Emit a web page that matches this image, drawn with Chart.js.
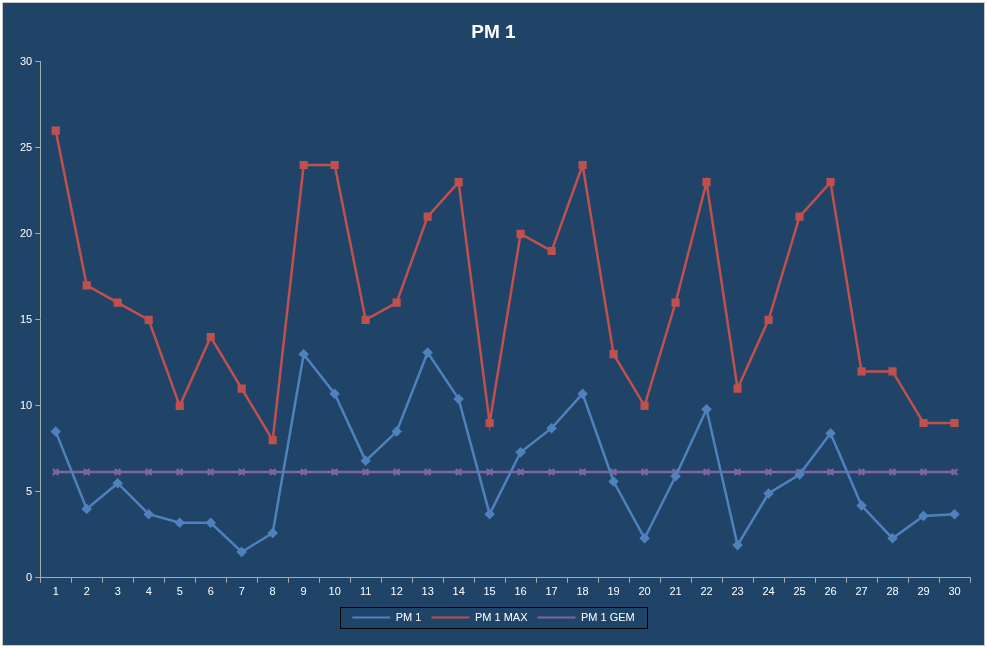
<!DOCTYPE html>
<html><head><meta charset="utf-8">
<script src="https://cdn.jsdelivr.net/npm/chart.js@4"></script>
<style>html,body{margin:0;padding:0;background:#fff}#w{position:absolute;left:2px;top:2px;width:981px;height:642px;background:#1F4467;border:1px solid #c8c8c8}</style>
</head><body><div id="w"><canvas id="c" width="981" height="642"></canvas></div>
<script>
const categories=Array.from({length:30},(_,i)=>String(i+1));
const pm1=[8.5,4.0,5.5,3.7,3.2,3.2,1.5,2.6,13.0,10.7,6.8,8.5,13.1,10.4,3.7,7.3,8.7,10.7,5.6,2.3,5.9,9.8,1.9,4.9,6.0,8.4,4.2,2.3,3.6,3.7];
const pm1max=[26,17,16,15,10,14,11,8,24,24,15,16,21,23,9,20,19,24,13,10,16,23,11,15,21,23,12,12,9,9];
const pm1gem=Array(30).fill(6.15);
const yTicks=[0,5,10,15,20,25,30];
const legendBox={id:'lb',afterDraw(ch){const h=ch.legend.legendHitBoxes;if(!h||!h.length)return;const c=ch.ctx;
const x0=h[0].left-12,x1=h[h.length-1].left+h[h.length-1].width+12,y0=h[0].top-5,y1=h[0].top+h[0].height+5;
c.save();c.strokeStyle='#000';c.lineWidth=1;c.strokeRect(Math.round(x0)+0.5,Math.round(y0)+0.5,Math.round(x1-x0),Math.round(y1-y0));c.restore();}};
new Chart(document.getElementById('c'),{type:'line',
data:{labels:categories,datasets:[
{label:'PM 1',data:pm1,borderColor:'#4F81BD',backgroundColor:'#4F81BD',pointStyle:'rectRot',pointRadius:3.5,borderWidth:2.5},
{label:'PM 1 MAX',data:pm1max,borderColor:'#C0504D',backgroundColor:'#C0504D',pointStyle:'rect',pointRadius:4,borderWidth:2.5},
{label:'PM 1 GEM',data:pm1gem,borderColor:'#8064A2',backgroundColor:'#8064A2',pointStyle:'crossRot',pointRadius:4,borderWidth:2.5}]},
options:{responsive:false,animation:false,layout:{padding:{left:14,right:14,top:4,bottom:12}},
plugins:{title:{display:true,text:'PM 1',color:'#fff',font:{family:'Liberation Sans',size:19,weight:'bold'},padding:{top:14,bottom:18}},
legend:{position:'bottom',labels:{color:'#fff',font:{family:'Liberation Sans',size:11},boxWidth:38,boxHeight:2,padding:10,
generateLabels(ch){return ch.data.datasets.map((d,i)=>({text:d.label,fillStyle:d.borderColor,strokeStyle:d.borderColor,lineWidth:0,fontColor:'#fff',datasetIndex:i}));}}},tooltip:{enabled:false}},
scales:{x:{offset:true,grid:{display:true,drawOnChartArea:false,color:'#aaa',offset:true,tickLength:5},border:{color:'#aaa'},ticks:{color:'#fff',font:{family:'Liberation Sans',size:11}}},
y:{min:0,max:30,afterBuildTicks(a){a.ticks=yTicks.map(v=>({value:v}));},grid:{drawOnChartArea:false,color:'#aaa',tickLength:5},border:{color:'#aaa'},ticks:{color:'#fff',font:{family:'Liberation Sans',size:11}}}}},
plugins:[legendBox]});
</script></body></html>
